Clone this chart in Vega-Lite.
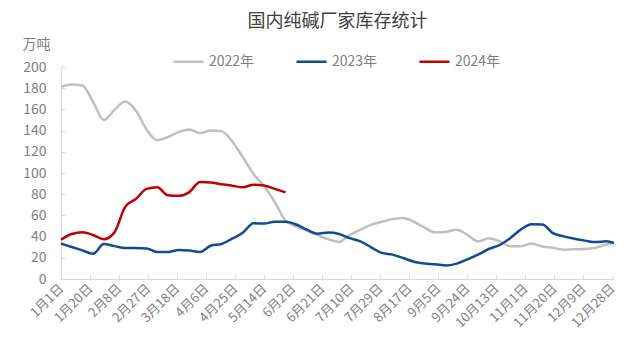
{
  "$schema": "https://vega.github.io/schema/vega-lite/v6.json",
  "width": 553,
  "height": 212,
  "autosize": {"type": "none"},
  "padding": {"left": 61, "top": 67, "right": 12, "bottom": 81},
  "background": "white",
  "config": {"view": {"stroke": null}, "font": "Noto Sans CJK SC"},
  "title": {"text": "国内纯碱厂家库存统计", "fontSize": 18, "fontWeight": "normal", "color": "#404040", "anchor": "middle", "offset": 6},
  "data": {"values": [
    {"date":"2023/01/01","year":"2022年","value":181.5},{"date":"2023/01/08","year":"2022年","value":183.5},{"date":"2023/01/15","year":"2022年","value":182.5},{"date":"2023/01/22","year":"2022年","value":167},{"date":"2023/01/29","year":"2022年","value":150},{"date":"2023/02/05","year":"2022年","value":159.5},{"date":"2023/02/12","year":"2022年","value":167.5},{"date":"2023/02/19","year":"2022年","value":159},{"date":"2023/02/26","year":"2022年","value":141},{"date":"2023/03/05","year":"2022年","value":131},{"date":"2023/03/12","year":"2022年","value":134},{"date":"2023/03/19","year":"2022年","value":138.5},{"date":"2023/03/26","year":"2022年","value":141},{"date":"2023/04/02","year":"2022年","value":137.7},{"date":"2023/04/09","year":"2022年","value":140},{"date":"2023/04/16","year":"2022年","value":139.5},{"date":"2023/04/23","year":"2022年","value":130},{"date":"2023/04/30","year":"2022年","value":115},{"date":"2023/05/07","year":"2022年","value":99},{"date":"2023/05/14","year":"2022年","value":87.5},{"date":"2023/05/21","year":"2022年","value":72.5},{"date":"2023/05/28","year":"2022年","value":55},{"date":"2023/06/04","year":"2022年","value":49.5},{"date":"2023/06/11","year":"2022年","value":45.5},{"date":"2023/06/18","year":"2022年","value":41.5},{"date":"2023/06/25","year":"2022年","value":37.5},{"date":"2023/07/02","year":"2022年","value":35},{"date":"2023/07/09","year":"2022年","value":41.5},{"date":"2023/07/16","year":"2022年","value":46.5},{"date":"2023/07/23","year":"2022年","value":51.2},{"date":"2023/07/30","year":"2022年","value":54},{"date":"2023/08/06","year":"2022年","value":56.5},{"date":"2023/08/13","year":"2022年","value":57.5},{"date":"2023/08/20","year":"2022年","value":54},{"date":"2023/08/27","year":"2022年","value":48.5},{"date":"2023/09/03","year":"2022年","value":44},{"date":"2023/09/10","year":"2022年","value":44.5},{"date":"2023/09/17","year":"2022年","value":46.5},{"date":"2023/09/24","year":"2022年","value":41.7},{"date":"2023/10/01","year":"2022年","value":35.5},{"date":"2023/10/08","year":"2022年","value":38.5},{"date":"2023/10/15","year":"2022年","value":35.5},{"date":"2023/10/22","year":"2022年","value":31},{"date":"2023/10/29","year":"2022年","value":31},{"date":"2023/11/05","year":"2022年","value":33.5},{"date":"2023/11/12","year":"2022年","value":30.7},{"date":"2023/11/19","year":"2022年","value":29.5},{"date":"2023/11/26","year":"2022年","value":27.6},{"date":"2023/12/03","year":"2022年","value":28},{"date":"2023/12/10","year":"2022年","value":28.3},{"date":"2023/12/17","year":"2022年","value":29.5},{"date":"2023/12/24","year":"2022年","value":32.5},{"date":"2023/12/29","year":"2022年","value":34},
    {"date":"2023/01/01","year":"2023年","value":33.5},{"date":"2023/01/08","year":"2023年","value":30.2},{"date":"2023/01/15","year":"2023年","value":27},{"date":"2023/01/22","year":"2023年","value":23.8},{"date":"2023/01/29","year":"2023年","value":33},{"date":"2023/02/05","year":"2023年","value":31},{"date":"2023/02/12","year":"2023年","value":29.2},{"date":"2023/02/19","year":"2023年","value":29.2},{"date":"2023/02/26","year":"2023年","value":28.8},{"date":"2023/03/05","year":"2023年","value":25.5},{"date":"2023/03/12","year":"2023年","value":25.5},{"date":"2023/03/19","year":"2023年","value":27.3},{"date":"2023/03/26","year":"2023年","value":26.8},{"date":"2023/04/02","year":"2023年","value":25.5},{"date":"2023/04/09","year":"2023年","value":31.4},{"date":"2023/04/16","year":"2023年","value":33},{"date":"2023/04/23","year":"2023年","value":38},{"date":"2023/04/30","year":"2023年","value":43.6},{"date":"2023/05/07","year":"2023年","value":52.6},{"date":"2023/05/14","year":"2023年","value":52.3},{"date":"2023/05/21","year":"2023年","value":54},{"date":"2023/05/28","year":"2023年","value":54},{"date":"2023/06/04","year":"2023年","value":51.4},{"date":"2023/06/11","year":"2023年","value":46.5},{"date":"2023/06/18","year":"2023年","value":42.8},{"date":"2023/06/25","year":"2023年","value":43.8},{"date":"2023/07/02","year":"2023年","value":42.5},{"date":"2023/07/09","year":"2023年","value":38.5},{"date":"2023/07/16","year":"2023年","value":35.5},{"date":"2023/07/23","year":"2023年","value":29.9},{"date":"2023/07/30","year":"2023年","value":24.6},{"date":"2023/08/06","year":"2023年","value":23},{"date":"2023/08/13","year":"2023年","value":19.8},{"date":"2023/08/20","year":"2023年","value":16.3},{"date":"2023/08/27","year":"2023年","value":14.6},{"date":"2023/09/03","year":"2023年","value":14},{"date":"2023/09/10","year":"2023年","value":12.7},{"date":"2023/09/17","year":"2023年","value":14.5},{"date":"2023/09/24","year":"2023年","value":18.6},{"date":"2023/10/01","year":"2023年","value":23},{"date":"2023/10/08","year":"2023年","value":28.3},{"date":"2023/10/15","year":"2023年","value":32},{"date":"2023/10/22","year":"2023年","value":38.5},{"date":"2023/10/29","year":"2023年","value":46.6},{"date":"2023/11/05","year":"2023年","value":51.7},{"date":"2023/11/12","year":"2023年","value":51.5},{"date":"2023/11/19","year":"2023年","value":43.3},{"date":"2023/11/26","year":"2023年","value":40.2},{"date":"2023/12/03","year":"2023年","value":38},{"date":"2023/12/10","year":"2023年","value":36.2},{"date":"2023/12/17","year":"2023年","value":34.8},{"date":"2023/12/24","year":"2023年","value":35.5},{"date":"2023/12/29","year":"2023年","value":34},
    {"date":"2023/01/01","year":"2024年","value":37},{"date":"2023/01/08","year":"2024年","value":42.5},{"date":"2023/01/15","year":"2024年","value":44},{"date":"2023/01/22","year":"2024年","value":41.5},{"date":"2023/01/29","year":"2024年","value":37.5},{"date":"2023/02/05","year":"2024年","value":44},{"date":"2023/02/12","year":"2024年","value":68},{"date":"2023/02/19","year":"2024年","value":75.5},{"date":"2023/02/26","year":"2024年","value":85},{"date":"2023/03/05","year":"2024年","value":86.5},{"date":"2023/03/12","year":"2024年","value":79},{"date":"2023/03/19","year":"2024年","value":78.5},{"date":"2023/03/26","year":"2024年","value":82},{"date":"2023/04/02","year":"2024年","value":91.5},{"date":"2023/04/09","year":"2024年","value":91},{"date":"2023/04/16","year":"2024年","value":89.3},{"date":"2023/04/23","year":"2024年","value":88},{"date":"2023/04/30","year":"2024年","value":86.5},{"date":"2023/05/07","year":"2024年","value":89},{"date":"2023/05/14","year":"2024年","value":88.3},{"date":"2023/05/21","year":"2024年","value":85},{"date":"2023/05/28","year":"2024年","value":81.7}
  ]},
  "mark": {"type": "line", "interpolate": "monotone", "strokeWidth": 2.5},
  "encoding": {
    "x": {
      "field": "date", "type": "temporal",
      "scale": {"domain": [{"year": 2023, "month": 1, "date": 1}, {"year": 2023, "month": 12, "date": 29}]},
      "axis": {
        "title": null,
        "values": [
          {"year":2023,"month":1,"date":1},{"year":2023,"month":1,"date":20},{"year":2023,"month":2,"date":8},{"year":2023,"month":2,"date":27},{"year":2023,"month":3,"date":18},{"year":2023,"month":4,"date":6},{"year":2023,"month":4,"date":25},{"year":2023,"month":5,"date":14},{"year":2023,"month":6,"date":2},{"year":2023,"month":6,"date":21},{"year":2023,"month":7,"date":10},{"year":2023,"month":7,"date":29},{"year":2023,"month":8,"date":17},{"year":2023,"month":9,"date":5},{"year":2023,"month":9,"date":24},{"year":2023,"month":10,"date":13},{"year":2023,"month":11,"date":1},{"year":2023,"month":11,"date":20},{"year":2023,"month":12,"date":9},{"year":2023,"month":12,"date":28}
        ],
        "format": "%-m月%-d日",
        "labelAngle": -45,
        "labelAlign": "right",
        "labelBaseline": "middle",
        "labelPadding": 11,
        "labelFontSize": 13,
        "labelColor": "#808080",
        "labelOverlap": false,
        "labelFlush": false,
        "grid": false,
        "domainColor": "#d9d9d9",
        "tickColor": "#d9d9d9",
        "tickSize": -4
      }
    },
    "y": {
      "field": "value", "type": "quantitative",
      "scale": {"domain": [0, 200], "nice": false},
      "axis": {
        "title": "万吨",
        "titleAngle": 0,
        "titleAlign": "center",
        "titleBaseline": "middle",
        "titleX": -25,
        "titleY": -23,
        "titleFontSize": 14,
        "titleFontWeight": "normal",
        "titleColor": "#808080",
        "values": [0,20,40,60,80,100,120,140,160,180,200],
        "labelFontSize": 14,
        "labelColor": "#808080",
        "labelPadding": 19,
        "grid": false,
        "domainColor": "#d9d9d9",
        "tickColor": "#d9d9d9",
        "tickSize": -4
      }
    },
    "color": {
      "field": "year", "type": "nominal",
      "scale": {"domain": ["2022年", "2023年", "2024年"], "range": ["#BFBFBF", "#124A94", "#C00000"]},
      "legend": {
        "title": null,
        "orient": "none",
        "legendX": 111,
        "legendY": -22,
        "direction": "horizontal",
        "padding": 0,
        "symbolType": "stroke",
        "symbolSize": 900,
        "symbolStrokeWidth": 2.5,
        "labelFontSize": 14,
        "labelColor": "#808080",
        "labelOffset": 4,
        "columnPadding": 36
      }
    }
  }
}
